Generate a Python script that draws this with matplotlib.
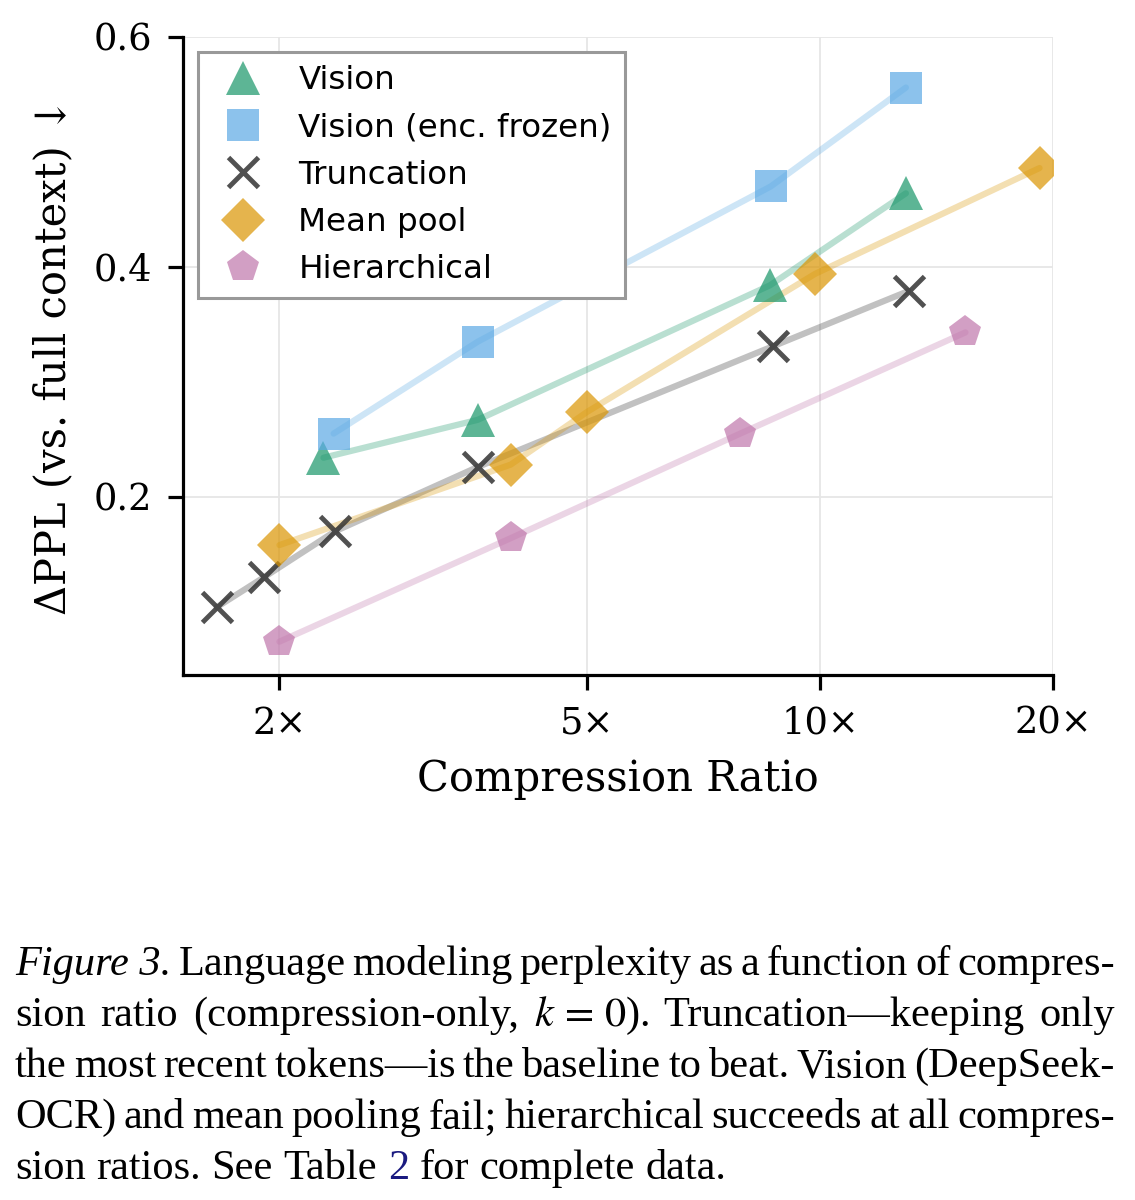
import matplotlib
matplotlib.use('Agg')
import matplotlib.pyplot as plt
import numpy as np

# values
vision_x = [2.28, 3.61, 8.61, 12.9]
vision_y = [0.234, 0.267, 0.384, 0.464]
frozen_x = [2.35, 3.61, 8.63, 12.9]
frozen_y = [0.255, 0.335, 0.470, 0.556]
trunc_x = [1.66, 1.91, 2.36, 3.61, 8.69, 13.0]
trunc_y = [0.104, 0.130, 0.170, 0.226, 0.331, 0.379]
pool_x = [2.0, 3.98, 5.0, 9.85, 19.2]
pool_y = [0.158, 0.228, 0.274, 0.394, 0.486]
hier_x = [2.0, 3.98, 7.88, 15.4]
hier_y = [0.074, 0.164, 0.255, 0.343]

series = [
    ('Vision', vision_x, vision_y, '#189669', '^', 25),
    ('Vision (enc. frozen)', frozen_x, frozen_y, '#5ba9e4', 's', 23),
    ('Truncation', trunc_x, trunc_y, '#333333', 'x', 21),
    ('Mean pool', pool_x, pool_y, '#da9502', 'D', 22),
    ('Hierarchical', hier_x, hier_y, '#c076ab', 'p', 24),
]

xticks = [2, 5, 10, 20]
xtick_labels = ['2×', '5×', '10×', '20×']
yticks = [0.2, 0.4, 0.6]

plt.rcParams['mathtext.fontset'] = 'stix'

fig = plt.figure(figsize=(11.35, 12), dpi=100)
ax = fig.add_axes([0.161, 0.4375, 0.767, 0.5317])

for name, xs, ys, col, mk, ms in series:
    ax.plot(xs, ys, color=col, lw=4.5, alpha=0.3, solid_capstyle='round', zorder=2)
    mew = 3.5 if mk == 'x' else 0
    ax.plot(xs, ys, ls='none', marker=mk, ms=ms, color=col, alpha=0.85 if mk == 'x' else 0.7,
            mew=mew, label=name, zorder=3)

ax.set_xscale('log')
ax.set_xlim(1.5, 20)
ax.set_ylim(0.045, 0.6)
ax.set_xticks(xticks)
ax.set_xticklabels(xtick_labels)
ax.xaxis.set_minor_locator(matplotlib.ticker.NullLocator())
ax.set_yticks(yticks)
ax.set_yticklabels(['0.2', '0.4', '0.6'])
ax.grid(True, color='#e6e6e6', lw=1.3)
ax.set_axisbelow(True)
for s in ['top', 'right']:
    ax.spines[s].set_visible(False)
for s in ['left', 'bottom']:
    ax.spines[s].set_linewidth(2.3)
ax.tick_params(width=2.3, length=11, labelsize=26.5, pad=11)
for lab in ax.get_xticklabels() + ax.get_yticklabels():
    lab.set_family('DejaVu Serif')

ax.set_xlabel('Compression Ratio', family='DejaVu Serif', fontsize=30, labelpad=12)
ax.set_ylabel('ΔPPL (vs. full context) ↓', family='DejaVu Serif', fontsize=30, labelpad=14)

leg = ax.legend(loc='upper left', fontsize=23.4, fancybox=False, framealpha=1,
                edgecolor='#999999', borderpad=0.4, labelspacing=0.5,
                handletextpad=0.7, borderaxespad=0, bbox_to_anchor=(0.017, 0.976))
leg.get_frame().set_linewidth(2.2)
for h in leg.legend_handles:
    h.set_alpha(0.7 if h.get_marker() != 'x' else 0.85)

# caption, justified line by line
cap_lines = [
    [('Figure 3.', 'italic', 'black'), ('Language', 'normal', 'black'), ('modeling', 'normal', 'black'),
     ('perplexity', 'normal', 'black'), ('as', 'normal', 'black'), ('a', 'normal', 'black'),
     ('function', 'normal', 'black'), ('of', 'normal', 'black'), ('compres-', 'normal', 'black')],
    [('sion', 'normal', 'black'), ('ratio', 'normal', 'black'), ('(compression-only,', 'normal', 'black'),
     ('$k\\,=\\,0$).', 'normal', 'black'), ('Truncation—keeping', 'normal', 'black'),
     ('only', 'normal', 'black')],
    [('the', 'normal', 'black'), ('most', 'normal', 'black'), ('recent', 'normal', 'black'),
     ('tokens—is', 'normal', 'black'), ('the', 'normal', 'black'), ('baseline', 'normal', 'black'),
     ('to', 'normal', 'black'), ('beat.', 'normal', 'black'), ('Vision', 'normal', 'black'),
     ('(DeepSeek-', 'normal', 'black')],
    [('OCR)', 'normal', 'black'), ('and', 'normal', 'black'), ('mean', 'normal', 'black'),
     ('pooling', 'normal', 'black'), ('fail;', 'normal', 'black'), ('hierarchical', 'normal', 'black'),
     ('succeeds', 'normal', 'black'), ('at', 'normal', 'black'), ('all', 'normal', 'black'),
     ('compres-', 'normal', 'black')],
    [('sion', 'normal', 'black'), ('ratios.', 'normal', 'black'), ('See', 'normal', 'black'),
     ('Table', 'normal', 'black'), ('2', 'normal', '#1a1a80'), ('for', 'normal', 'black'),
     ('complete', 'normal', 'black'), ('data.', 'normal', 'black')],
]
cap_size = 30.5
W, H = fig.get_size_inches() * fig.dpi
left_px, right_px = 15, 1115
line_y = [975, 1026, 1077, 1128, 1179]
renderer = fig.canvas.get_renderer()
for i, words in enumerate(cap_lines):
    texts = []
    for w, style, col in words:
        t = fig.text(0, 1 - line_y[i] / H, w, family='Liberation Serif', style=style,
                     color=col, fontsize=cap_size, va='baseline', ha='left')
        texts.append(t)
    widths = [t.get_window_extent(renderer).width for t in texts]
    if i < len(cap_lines) - 1:
        gap = (right_px - left_px - sum(widths)) / (len(texts) - 1)
    else:
        gap = 0.25 * cap_size * fig.dpi / 72
    x = left_px
    for t, wd in zip(texts, widths):
        t.set_x(x / W)
        x += wd + gap

fig.savefig('out.png', dpi=100)
